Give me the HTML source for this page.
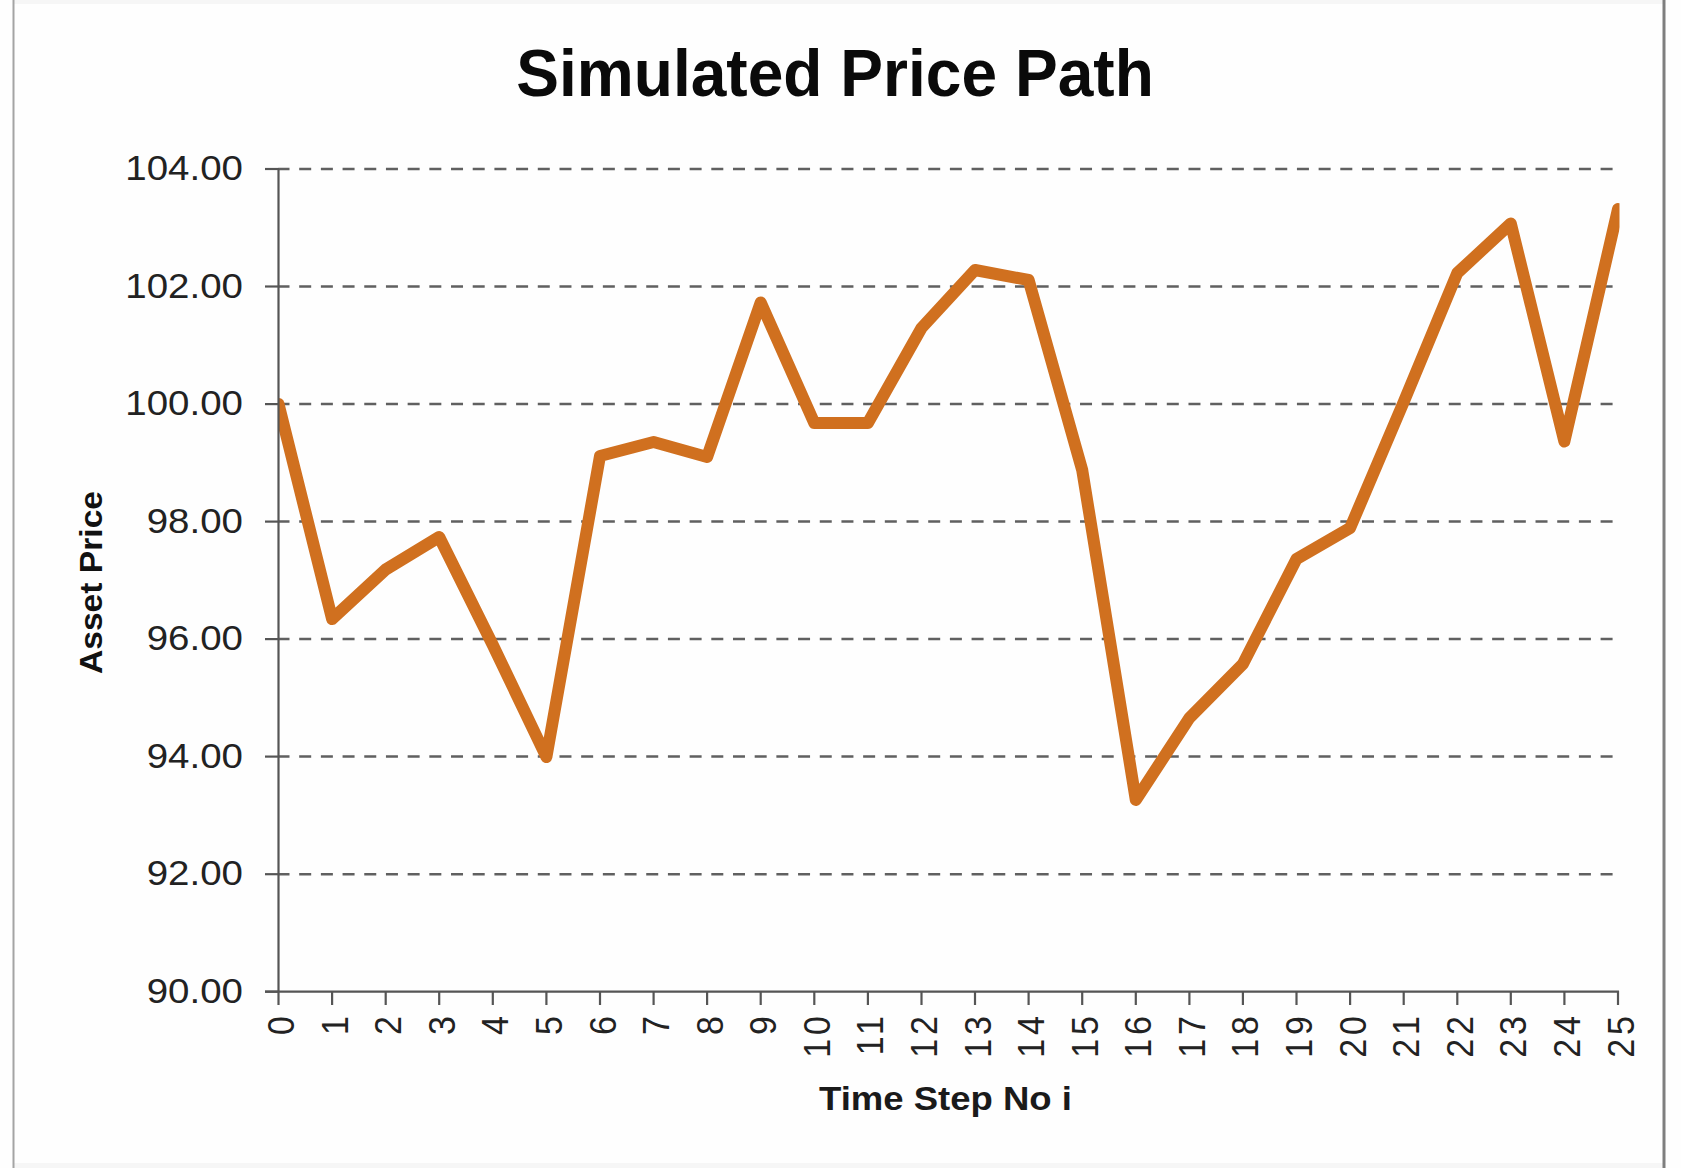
<!DOCTYPE html>
<html><head><meta charset="utf-8"><style>
html,body{margin:0;padding:0;background:#fff;}
body{width:1681px;height:1168px;overflow:hidden;}
svg{display:block;}
text{font-family:"Liberation Sans",sans-serif;}
</style></head><body>
<svg width="1681" height="1168" viewBox="0 0 1681 1168">
<rect x="0" y="0" width="1681" height="1168" fill="#fefefe"/>
<rect x="13" y="0" width="1652" height="4" fill="#f6f6f6"/>
<rect x="13" y="1163" width="1652" height="5" fill="#f6f6f6"/>
<rect x="12.5" y="0" width="2" height="1168" fill="#a4a4a4"/>
<rect x="1662.5" y="0" width="3" height="1168" fill="#7e7e7e"/>
<g stroke="#606060" stroke-width="2.5" stroke-dasharray="12 9.69" stroke-dashoffset="1" fill="none"><line x1="278.5" y1="169.0" x2="1617" y2="169.0"/><line x1="278.5" y1="286.5" x2="1617" y2="286.5"/><line x1="278.5" y1="404.1" x2="1617" y2="404.1"/><line x1="278.5" y1="521.6" x2="1617" y2="521.6"/><line x1="278.5" y1="639.1" x2="1617" y2="639.1"/><line x1="278.5" y1="756.6" x2="1617" y2="756.6"/><line x1="278.5" y1="874.2" x2="1617" y2="874.2"/></g>
<defs><clipPath id="pc"><rect x="278.5" y="150" width="1341" height="842"/></clipPath></defs>
<g clip-path="url(#pc)"><polyline points="278.5,404.0 332.1,619.0 385.7,569.5 439.2,537.0 492.8,645.0 546.4,757.0 600.0,456.0 653.6,442.0 707.1,457.0 760.7,302.5 814.3,423.0 867.9,423.0 921.5,328.0 975.0,270.0 1028.6,280.0 1082.2,470.0 1135.8,800.0 1189.4,718.0 1242.9,664.0 1296.5,559.0 1350.1,528.0 1403.7,402.0 1457.3,273.0 1510.8,223.5 1564.4,441.5 1618.0,209.0" fill="none" stroke="#d0701f" stroke-width="12" stroke-linejoin="round" stroke-linecap="round"/></g>
<g stroke="#555" stroke-width="2.2" fill="none">
<line x1="278.5" y1="169" x2="278.5" y2="992"/>
<line x1="265" y1="991.7" x2="1619" y2="991.7"/>
<line x1="265" y1="169.0" x2="279" y2="169.0"/><line x1="265" y1="286.5" x2="279" y2="286.5"/><line x1="265" y1="404.1" x2="279" y2="404.1"/><line x1="265" y1="521.6" x2="279" y2="521.6"/><line x1="265" y1="639.1" x2="279" y2="639.1"/><line x1="265" y1="756.6" x2="279" y2="756.6"/><line x1="265" y1="874.2" x2="279" y2="874.2"/><line x1="265" y1="991.7" x2="279" y2="991.7"/><line x1="278.5" y1="991" x2="278.5" y2="1005"/><line x1="332.1" y1="991" x2="332.1" y2="1005"/><line x1="385.7" y1="991" x2="385.7" y2="1005"/><line x1="439.2" y1="991" x2="439.2" y2="1005"/><line x1="492.8" y1="991" x2="492.8" y2="1005"/><line x1="546.4" y1="991" x2="546.4" y2="1005"/><line x1="600.0" y1="991" x2="600.0" y2="1005"/><line x1="653.6" y1="991" x2="653.6" y2="1005"/><line x1="707.1" y1="991" x2="707.1" y2="1005"/><line x1="760.7" y1="991" x2="760.7" y2="1005"/><line x1="814.3" y1="991" x2="814.3" y2="1005"/><line x1="867.9" y1="991" x2="867.9" y2="1005"/><line x1="921.5" y1="991" x2="921.5" y2="1005"/><line x1="975.0" y1="991" x2="975.0" y2="1005"/><line x1="1028.6" y1="991" x2="1028.6" y2="1005"/><line x1="1082.2" y1="991" x2="1082.2" y2="1005"/><line x1="1135.8" y1="991" x2="1135.8" y2="1005"/><line x1="1189.4" y1="991" x2="1189.4" y2="1005"/><line x1="1242.9" y1="991" x2="1242.9" y2="1005"/><line x1="1296.5" y1="991" x2="1296.5" y2="1005"/><line x1="1350.1" y1="991" x2="1350.1" y2="1005"/><line x1="1403.7" y1="991" x2="1403.7" y2="1005"/><line x1="1457.3" y1="991" x2="1457.3" y2="1005"/><line x1="1510.8" y1="991" x2="1510.8" y2="1005"/><line x1="1564.4" y1="991" x2="1564.4" y2="1005"/><line x1="1618.0" y1="991" x2="1618.0" y2="1005"/>
</g>
<text transform="translate(835,95.5) scale(0.957,1)" text-anchor="middle" font-weight="bold" font-size="67" fill="#0a0a0a">Simulated Price Path</text>
<g font-size="35.8" fill="#222" text-anchor="end"><text transform="translate(243,180.0) scale(1.075,1)">104.00</text><text transform="translate(243,297.5) scale(1.075,1)">102.00</text><text transform="translate(243,415.1) scale(1.075,1)">100.00</text><text transform="translate(243,532.6) scale(1.075,1)">98.00</text><text transform="translate(243,650.1) scale(1.075,1)">96.00</text><text transform="translate(243,767.6) scale(1.075,1)">94.00</text><text transform="translate(243,885.2) scale(1.075,1)">92.00</text><text transform="translate(243,1002.7) scale(1.075,1)">90.00</text></g>
<g font-size="37" fill="#222" text-anchor="end" letter-spacing="4"><text transform="translate(294.0,1012.5) rotate(-90) scale(0.92,1)">0</text><text transform="translate(347.6,1012.5) rotate(-90) scale(0.92,1)">1</text><text transform="translate(401.2,1012.5) rotate(-90) scale(0.92,1)">2</text><text transform="translate(454.7,1012.5) rotate(-90) scale(0.92,1)">3</text><text transform="translate(508.3,1012.5) rotate(-90) scale(0.92,1)">4</text><text transform="translate(561.9,1012.5) rotate(-90) scale(0.92,1)">5</text><text transform="translate(615.5,1012.5) rotate(-90) scale(0.92,1)">6</text><text transform="translate(669.1,1012.5) rotate(-90) scale(0.92,1)">7</text><text transform="translate(722.6,1012.5) rotate(-90) scale(0.92,1)">8</text><text transform="translate(776.2,1012.5) rotate(-90) scale(0.92,1)">9</text><text transform="translate(829.8,1012.5) rotate(-90) scale(0.92,1)">10</text><text transform="translate(883.4,1012.5) rotate(-90) scale(0.92,1)">11</text><text transform="translate(937.0,1012.5) rotate(-90) scale(0.92,1)">12</text><text transform="translate(990.5,1012.5) rotate(-90) scale(0.92,1)">13</text><text transform="translate(1044.1,1012.5) rotate(-90) scale(0.92,1)">14</text><text transform="translate(1097.7,1012.5) rotate(-90) scale(0.92,1)">15</text><text transform="translate(1151.3,1012.5) rotate(-90) scale(0.92,1)">16</text><text transform="translate(1204.9,1012.5) rotate(-90) scale(0.92,1)">17</text><text transform="translate(1258.4,1012.5) rotate(-90) scale(0.92,1)">18</text><text transform="translate(1312.0,1012.5) rotate(-90) scale(0.92,1)">19</text><text transform="translate(1365.6,1012.5) rotate(-90) scale(0.92,1)">20</text><text transform="translate(1419.2,1012.5) rotate(-90) scale(0.92,1)">21</text><text transform="translate(1472.8,1012.5) rotate(-90) scale(0.92,1)">22</text><text transform="translate(1526.3,1012.5) rotate(-90) scale(0.92,1)">23</text><text transform="translate(1579.9,1012.5) rotate(-90) scale(0.92,1)">24</text><text transform="translate(1633.5,1012.5) rotate(-90) scale(0.92,1)">25</text></g>
<text transform="translate(102,582.5) rotate(-90) scale(1.085,1)" text-anchor="middle" font-weight="bold" font-size="31" fill="#111">Asset Price</text>
<text transform="translate(945.5,1110) scale(1.074,1)" text-anchor="middle" font-weight="bold" font-size="34" fill="#1a1a1a">Time Step No i</text>
</svg>
</body></html>
